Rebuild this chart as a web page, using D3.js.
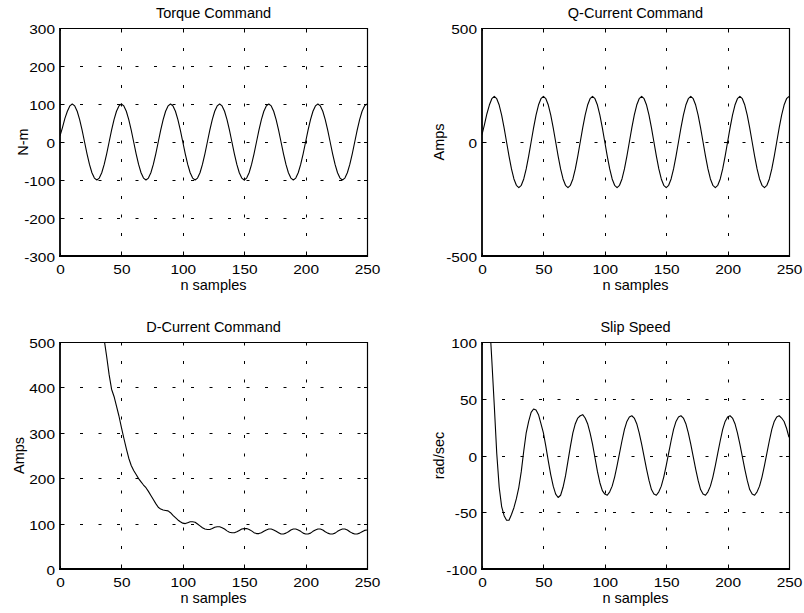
<!DOCTYPE html>
<html>
<head>
<meta charset="utf-8">
<script src="https://cdn.jsdelivr.net/npm/d3@7"></script>
<style>
  html, body { margin: 0; padding: 0; background: #fff; }
  svg { display: block; font-family: "Liberation Sans", Arial, Helvetica, sans-serif; }
</style>
</head>
<body>
<svg id="fig" width="804" height="613"></svg>
<script>
// Sample index (every second sample, 0..250)
const sampleIndex = d3.range(0, 251, 2);

// Torque command, N-m
const torqueCmd = [
  16, 38, 62, 81, 95, 100, 95, 81, 59, 31, 0, -31, -59, -81, -95, -100, -95, -81, -59, -31,
  0, 31, 59, 81, 95, 100, 95, 81, 59, 31, 0, -31, -59, -81, -95, -100, -95, -81, -59, -31,
  0, 31, 59, 81, 95, 100, 95, 81, 59, 31, 0, -31, -59, -81, -95, -100, -95, -81, -59, -31,
  0, 31, 59, 81, 95, 100, 95, 81, 59, 31, 0, -31, -59, -81, -95, -100, -95, -81, -59, -31,
  0, 31, 59, 81, 95, 100, 95, 81, 59, 31, 0, -31, -59, -81, -95, -100, -95, -81, -59, -31,
  0, 31, 59, 81, 95, 100, 95, 81, 59, 31, 0, -31, -59, -81, -95, -100, -95, -81, -59, -31,
  0, 31, 59, 81, 95, 100
];

// Q-axis current command, Amps
const qCurrentCmd = [
  32, 76, 124, 162, 190, 200, 190, 162, 118, 62, 0, -62, -118, -162, -190, -200, -190, -162, -118, -62,
  0, 62, 118, 162, 190, 200, 190, 162, 118, 62, 0, -62, -118, -162, -190, -200, -190, -162, -118, -62,
  0, 62, 118, 162, 190, 200, 190, 162, 118, 62, 0, -62, -118, -162, -190, -200, -190, -162, -118, -62,
  0, 62, 118, 162, 190, 200, 190, 162, 118, 62, 0, -62, -118, -162, -190, -200, -190, -162, -118, -62,
  0, 62, 118, 162, 190, 200, 190, 162, 118, 62, 0, -62, -118, -162, -190, -200, -190, -162, -118, -62,
  0, 62, 118, 162, 190, 200, 190, 162, 118, 62, 0, -62, -118, -162, -190, -200, -190, -162, -118, -62,
  0, 62, 118, 162, 190, 200
];

// D-axis current command, Amps
const dCurrentCmd = [
  1400, 1330, 1260, 1190, 1125, 1060, 1000, 945, 890, 840,
  790, 745, 700, 660, 620, 585, 555, 527, 505, 468,
  428, 396, 380, 359, 337, 312, 288, 265, 244, 228,
  217, 208, 199, 192, 185, 179, 171, 162, 153, 144,
  136, 132, 130, 129, 128, 124, 118, 113, 108, 104,
  101, 100, 102, 104, 104, 103, 99, 95, 91, 88,
  87, 87, 89, 92, 93, 93, 91, 88, 84, 81,
  80, 80, 82, 85, 88, 89, 89, 87, 84, 80,
  78, 78, 80, 83, 86, 88, 88, 86, 83, 80,
  77, 77, 79, 82, 86, 88, 88, 86, 83, 79,
  77, 77, 79, 83, 86, 88, 88, 86, 82, 79,
  77, 77, 79, 83, 86, 88, 88, 86, 82, 79,
  77, 77, 79, 82, 85, 86
];

// Slip speed, rad/sec
const slipSpeed = [
  260, 212, 166, 122, 84, 44, 2, -28, -45, -53,
  -57, -57, -52, -46, -38, -28, -14, 4, 20, 30,
  38, 41, 40, 36, 28, 20, 8, -5, -17, -27,
  -34, -37, -35, -28, -18, -5, 8, 20, 28, 33,
  35, 36, 33, 28, 20, 10, -2, -14, -24, -31,
  -34, -35, -32, -27, -19, -9, 2, 13, 23, 30,
  34, 35, 33, 28, 20, 10, -1, -12, -22, -30,
  -34, -35, -32, -27, -19, -9, 2, 13, 23, 30,
  34, 35, 33, 28, 20, 10, -1, -12, -22, -30,
  -34, -35, -32, -27, -19, -9, 2, 13, 23, 30,
  34, 35, 33, 28, 20, 10, -1, -12, -22, -30,
  -34, -35, -32, -27, -19, -9, 2, 13, 23, 30,
  34, 35, 33, 30, 24, 16
];

// Axis ticks
const xTicks = [0, 50, 100, 150, 200, 250];
const torqueTicks = [-300, -200, -100, 0, 100, 200, 300];
const qTicks = [-500, 0, 500];
const dTicks = [0, 100, 200, 300, 400, 500];
const slipTicks = [-100, -50, 0, 50, 100];

// Texts
const titles = ["Torque Command", "Q-Current Command", "D-Current Command", "Slip Speed"];
const yLabels = ["N-m", "Amps", "Amps", "rad/sec"];
const xLabel = "n samples";

const seriesList = [torqueCmd, qCurrentCmd, dCurrentCmd, slipSpeed];
const yTickSets = [torqueTicks, qTicks, dTicks, slipTicks];

// Subplot boxes (pixels) and label placement
const layout = [
  { x0: 60,  x1: 367, y0: 28,  y1: 256, ylabelX: 27.5 },
  { x0: 482, x1: 789, y0: 28,  y1: 256, ylabelX: 444 },
  { x0: 60,  x1: 367, y0: 342, y1: 569, ylabelX: 24 },
  { x0: 482, x1: 789, y0: 342, y1: 569, ylabelX: 444 }
];

const svg = d3.select("#fig");
const defs = svg.append("defs");
svg.append("rect").attr("width", 804).attr("height", 613).attr("fill", "#fff");

const TICK_FONT = 13.5, TICK_STRETCH = 1.14, LABEL_FONT = 14.5;

function stretch(sel, factor) {
  sel.each(function () {
    const w = this.getComputedTextLength();
    this.setAttribute("textLength", (w * factor).toFixed(2));
    this.setAttribute("lengthAdjust", "spacingAndGlyphs");
  });
}

const fmt = d => String(d);

seriesList.forEach((values, i) => {
  const L = layout[i];
  const yt = yTickSets[i];
  const yDom = [yt[0], yt[yt.length - 1]];
  const x = d3.scaleLinear().domain([0, 250]).range([L.x0, L.x1]);
  const y = d3.scaleLinear().domain(yDom).range([L.y1, L.y0]);
  const g = svg.append("g");

  defs.append("clipPath").attr("id", "clip" + i)
    .append("rect")
    .attr("x", L.x0).attr("y", L.y0)
    .attr("width", L.x1 - L.x0).attr("height", L.y1 - L.y0);

  // dotted grid
  const grid = g.append("g")
    .attr("stroke", "#000").attr("stroke-width", 1)
    .attr("stroke-dasharray", "3 15.5").attr("stroke-dashoffset", 17);
  grid.selectAll("line.h")
    .data(yt.filter(v => v !== yDom[0] && v !== yDom[1]))
    .join("line").attr("class", "h")
    .attr("x1", L.x0).attr("x2", L.x1)
    .attr("y1", d => Math.round(y(d)) + 0.5).attr("y2", d => Math.round(y(d)) + 0.5);
  grid.selectAll("line.v")
    .data(xTicks.filter(v => v !== 0 && v !== 250))
    .join("line").attr("class", "v")
    .attr("x1", d => Math.round(x(d)) + 0.5).attr("x2", d => Math.round(x(d)) + 0.5)
    .attr("y1", L.y1).attr("y2", L.y0);

  // inward tick marks on all four sides
  const tk = g.append("g").attr("stroke", "#000").attr("stroke-width", 1);
  tk.selectAll("line.tl").data(yt).join("line")
    .attr("x1", L.x0).attr("x2", L.x0 + 3)
    .attr("y1", d => Math.round(y(d)) + 0.5).attr("y2", d => Math.round(y(d)) + 0.5);
  tk.selectAll("line.tr").data(yt).join("line")
    .attr("x1", L.x1).attr("x2", L.x1 - 3)
    .attr("y1", d => Math.round(y(d)) + 0.5).attr("y2", d => Math.round(y(d)) + 0.5);
  tk.selectAll("line.tb").data(xTicks).join("line")
    .attr("x1", d => Math.round(x(d)) + 0.5).attr("x2", d => Math.round(x(d)) + 0.5)
    .attr("y1", L.y1).attr("y2", L.y1 - 3);
  tk.selectAll("line.tt").data(xTicks).join("line")
    .attr("x1", d => Math.round(x(d)) + 0.5).attr("x2", d => Math.round(x(d)) + 0.5)
    .attr("y1", L.y0).attr("y2", L.y0 + 3);

  // data trace
  const line = d3.line()
    .x((d, k) => x(sampleIndex[k]))
    .y(d => y(d));
  g.append("path")
    .datum(values)
    .attr("clip-path", `url(#clip${i})`)
    .attr("fill", "none")
    .attr("stroke", "#000")
    .attr("stroke-width", 1.1)
    .attr("stroke-linejoin", "round")
    .attr("d", line);

  // axes box
  const box = g.append("g").attr("stroke", "#000").attr("fill", "none");
  box.append("line").attr("x1", L.x0 - 0.5).attr("x2", L.x1 + 0.5)
    .attr("y1", L.y0 + 0.5).attr("y2", L.y0 + 0.5).attr("stroke-width", 1.2);
  box.append("line").attr("x1", L.x1 + 0.5).attr("x2", L.x1 + 0.5)
    .attr("y1", L.y0).attr("y2", L.y1 + 1).attr("stroke-width", 1.2);
  box.append("line").attr("x1", L.x0).attr("x2", L.x0)
    .attr("y1", L.y0).attr("y2", L.y1 + 1).attr("stroke-width", 1.8);
  box.append("line").attr("x1", L.x0 - 1).attr("x2", L.x1 + 1)
    .attr("y1", L.y1).attr("y2", L.y1).attr("stroke-width", 1.8);

  // y tick labels
  const ya = g.append("g").attr("transform", `translate(${L.x0},0)`)
    .call(d3.axisLeft(y).tickValues(yt).tickSize(0).tickPadding(5).tickFormat(fmt));
  ya.select(".domain").remove();
  ya.attr("font-family", null).attr("font-size", TICK_FONT);
  ya.selectAll("text").attr("fill", "#000").attr("dy", 5.5);
  stretch(ya.selectAll("text"), TICK_STRETCH);

  // x tick labels
  const xa = g.append("g").attr("transform", `translate(0,${L.y1})`)
    .call(d3.axisBottom(x).tickValues(xTicks).tickSize(0).tickFormat(fmt));
  xa.select(".domain").remove();
  xa.attr("font-family", null).attr("font-size", TICK_FONT);
  xa.selectAll("text").attr("fill", "#000").attr("dy", null).attr("y", 18);
  stretch(xa.selectAll("text"), TICK_STRETCH);

  const cx = (L.x0 + L.x1) / 2, cy = (L.y0 + L.y1) / 2;

  // title
  g.append("text")
    .attr("x", cx).attr("y", L.y0 - 10.5)
    .attr("text-anchor", "middle").attr("font-size", LABEL_FONT)
    .text(titles[i]);

  // x label
  g.append("text")
    .attr("x", cx).attr("y", L.y1 + 34)
    .attr("text-anchor", "middle").attr("font-size", LABEL_FONT)
    .text(xLabel);

  // y label
  g.append("text")
    .attr("transform", `translate(${L.ylabelX},${cy}) rotate(-90)`)
    .attr("text-anchor", "middle").attr("font-size", LABEL_FONT)
    .text(yLabels[i]);
});
</script>
</body>
</html>
